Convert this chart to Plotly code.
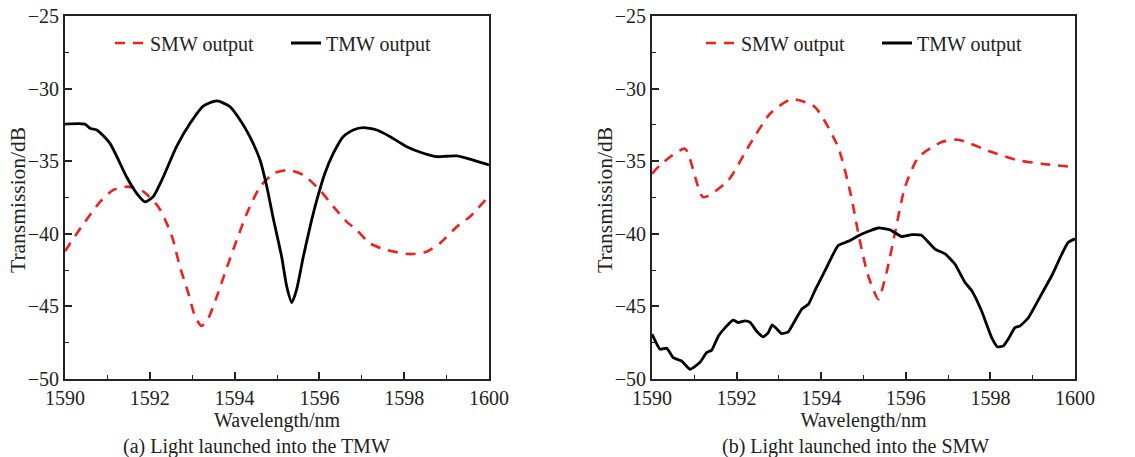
import plotly.graph_objects as go

# ---------------- data ----------------
# (a) Light launched into the TMW
a_tmw_wl = [1590.0, 1590.47, 1590.6, 1590.75, 1591.06, 1591.45, 1591.69, 1591.89, 1592.08, 1592.32,
            1592.63, 1592.95, 1593.26, 1593.58, 1593.89, 1594.13, 1594.36, 1594.6, 1594.76, 1594.92,
            1595.11, 1595.23, 1595.35, 1595.46, 1595.62, 1595.78, 1595.94, 1596.13, 1596.33, 1596.56,
            1596.8, 1597.03, 1597.35, 1597.67, 1598.06, 1598.45, 1598.77, 1599.0, 1599.24, 1599.63, 1600.0]
a_tmw_db = [-32.45, -32.45, -32.75, -32.85, -33.77, -36.07, -37.21, -37.8, -37.44, -36.07,
            -34.0, -32.39, -31.2, -30.85, -31.24, -32.16, -33.31, -34.92, -36.76, -39.05,
            -41.58, -43.64, -44.74, -43.87, -41.58, -39.51, -37.67, -35.83, -34.45, -33.31,
            -32.85, -32.69, -32.85, -33.31, -34.0, -34.45, -34.69, -34.66, -34.64, -34.92, -35.26]

a_smw_wl = [1590.0, 1590.39, 1590.83, 1591.14, 1591.49, 1591.85, 1592.2, 1592.4, 1592.55, 1592.71,
            1592.91, 1593.07, 1593.22, 1593.38, 1593.58, 1593.81, 1594.05, 1594.29, 1594.6, 1594.92,
            1595.27, 1595.62, 1596.01, 1596.33, 1596.64, 1596.88, 1597.19, 1597.59, 1598.14, 1598.53,
            1598.84, 1599.24, 1599.55, 1600.0]
a_smw_db = [-41.2, -39.51, -37.79, -36.98, -36.75, -37.1, -38.13, -39.28, -40.43, -42.27,
            -44.1, -45.71, -46.35, -45.82, -44.33, -42.38, -40.43, -38.59, -36.76, -35.84,
            -35.6, -35.95, -36.98, -38.13, -39.16, -39.74, -40.66, -41.12, -41.4, -41.23,
            -40.66, -39.51, -38.82, -37.4]

# (b) Light launched into the SMW
b_smw_wl = [1590.0, 1590.23, 1590.78, 1591.21, 1591.8, 1592.3, 1592.8, 1593.3, 1593.85, 1594.4,
            1594.7, 1594.88, 1595.1, 1595.35, 1595.55, 1595.74, 1595.98, 1596.3, 1596.85, 1597.24,
            1598.03, 1598.66, 1599.21, 1600.0]
b_smw_db = [-35.86, -35.17, -34.14, -37.48, -36.33, -33.9, -31.7, -30.73, -31.26, -34.03,
            -37.3, -40.0, -42.8, -44.5, -42.6, -40.0, -36.79, -34.72, -33.68, -33.52,
            -34.37, -34.94, -35.17, -35.41]

b_tmw_wl = [1590.0, 1590.19, 1590.35, 1590.5, 1590.7, 1590.9, 1591.13, 1591.29, 1591.41, 1591.57,
            1591.73, 1591.92, 1592.04, 1592.2, 1592.32, 1592.47, 1592.63, 1592.75, 1592.84, 1592.94,
            1593.06, 1593.22, 1593.42, 1593.54, 1593.7, 1593.85, 1594.09, 1594.4, 1594.64, 1594.96,
            1595.35, 1595.63, 1595.9, 1596.14, 1596.37, 1596.69, 1596.93, 1597.16, 1597.4, 1597.56,
            1597.79, 1598.03, 1598.17, 1598.31, 1598.42, 1598.58, 1598.7, 1598.9, 1599.21, 1599.45,
            1599.69, 1599.84, 1600.0]
b_tmw_db = [-46.91, -47.95, -47.88, -48.53, -48.76, -49.33, -48.87, -48.18, -48.02, -47.03,
            -46.46, -45.95, -46.11, -46.0, -46.1, -46.69, -47.1, -46.8, -46.27, -46.52,
            -46.87, -46.75, -45.77, -45.19, -44.84, -43.92, -42.54, -40.81, -40.52, -40.01,
            -39.6, -39.73, -40.19, -40.06, -40.1, -41.05, -41.39, -42.08, -43.35, -43.92,
            -45.3, -47.15, -47.79, -47.72, -47.26, -46.46, -46.35, -45.77, -44.15, -42.89,
            -41.39, -40.59, -40.35]

x_ticks = [1590, 1592, 1594, 1596, 1598, 1600]
y_ticks = [-50, -45, -40, -35, -30, -25]
y_ticktext = ["\u221250", "\u221245", "\u221240", "\u221235", "\u221230", "\u221225"]
captions = ["(a) Light launched into the TMW", "(b) Light launched into the SMW"]
x_title = "Wavelength/nm"
y_title = "Transmission/dB"

# ---------------- figure ----------------
FONT = "Liberation Serif, Times New Roman, serif"
RED = "#f0201c"
BLACK = "#000000"
TXT = "#222"
FS = 20
W, H = 1135, 457

fig = go.Figure()

fig.add_trace(go.Scatter(x=a_smw_wl, y=a_smw_db, mode="lines", name="SMW output",
                         line=dict(color=RED, width=2.6, dash="10px,8px", shape="spline", smoothing=0.6),
                         xaxis="x", yaxis="y", legend="legend"))
fig.add_trace(go.Scatter(x=a_tmw_wl, y=a_tmw_db, mode="lines", name="TMW output",
                         line=dict(color=BLACK, width=2.8, shape="spline", smoothing=0.6),
                         xaxis="x", yaxis="y", legend="legend"))
fig.add_trace(go.Scatter(x=b_smw_wl, y=b_smw_db, mode="lines", name="SMW output",
                         line=dict(color=RED, width=2.6, dash="10px,8px", shape="spline", smoothing=0.6),
                         xaxis="x2", yaxis="y2", legend="legend2"))
fig.add_trace(go.Scatter(x=b_tmw_wl, y=b_tmw_db, mode="lines", name="TMW output",
                         line=dict(color=BLACK, width=2.8, shape="spline", smoothing=0.4),
                         xaxis="x2", yaxis="y2", legend="legend2"))

ydom = [1 - 379 / H, 1 - 16 / H]
xdom1 = [65 / W, 489 / W]
xdom2 = [652 / W, 1075 / W]

def xaxis(dom, anchor):
    return dict(domain=dom, anchor=anchor, range=[1590, 1600], tickvals=x_ticks,
                ticks="inside", ticklen=7, tickwidth=1.5, tickcolor=TXT,
                minor=dict(dtick=1, tick0=1590, ticks="inside", ticklen=4, tickwidth=1.3, tickcolor=TXT),
                showline=True, linecolor=TXT, linewidth=1.8, mirror=True,
                showgrid=False, zeroline=False, automargin=False,
                tickfont=dict(family=FONT, size=FS, color=TXT),
                title=dict(text=x_title, font=dict(family=FONT, size=FS, color=TXT), standoff=0))

def yaxis(dom, anchor):
    return dict(domain=dom, anchor=anchor, range=[-50, -25], tickvals=y_ticks, ticktext=y_ticktext,
                ticks="inside", ticklen=7, tickwidth=1.5, tickcolor=TXT,
                minor=dict(dtick=2.5, tick0=-50, ticks="inside", ticklen=4, tickwidth=1.3, tickcolor=TXT),
                showline=True, linecolor=TXT, linewidth=1.8, mirror=True,
                showgrid=False, zeroline=False, automargin=False,
                tickfont=dict(family=FONT, size=FS, color=TXT))

legend_common = dict(orientation="h", bgcolor="rgba(0,0,0,0)", borderwidth=0,
                     font=dict(family=FONT, size=FS, color=TXT),
                     entrywidth=131, yanchor="middle", xanchor="left", traceorder="normal")

txt_font = dict(family=FONT, size=FS, color=TXT)
ytitle_font = dict(family=FONT, size=21.5, color=TXT)
ymid = 1 - 200 / H

fig.update_layout(
    width=W, height=H, margin=dict(l=0, r=0, t=0, b=0),
    paper_bgcolor="white", plot_bgcolor="white",
    xaxis=xaxis(xdom1, "y"), yaxis=yaxis(ydom, "x"),
    xaxis2=xaxis(xdom2, "y2"), yaxis2=yaxis(ydom, "x2"),
    legend=dict(x=110 / W, y=1 - 43 / H, **legend_common),
    legend2=dict(x=701 / W, y=1 - 43 / H, **legend_common),
    annotations=[
        dict(text=y_title, x=18 / W, y=ymid, xref="paper", yref="paper", textangle=-90,
             showarrow=False, font=ytitle_font, xanchor="center", yanchor="middle"),
        dict(text=y_title, x=605 / W, y=ymid, xref="paper", yref="paper", textangle=-90,
             showarrow=False, font=ytitle_font, xanchor="center", yanchor="middle"),
        dict(text=captions[0], x=256 / W, y=1 - 446 / H, xref="paper", yref="paper",
             showarrow=False, font=txt_font, xanchor="center", yanchor="middle"),
        dict(text=captions[1], x=855 / W, y=1 - 446 / H, xref="paper", yref="paper",
             showarrow=False, font=txt_font, xanchor="center", yanchor="middle"),
    ],
    showlegend=True,
)

fig.write_html("out.html")
